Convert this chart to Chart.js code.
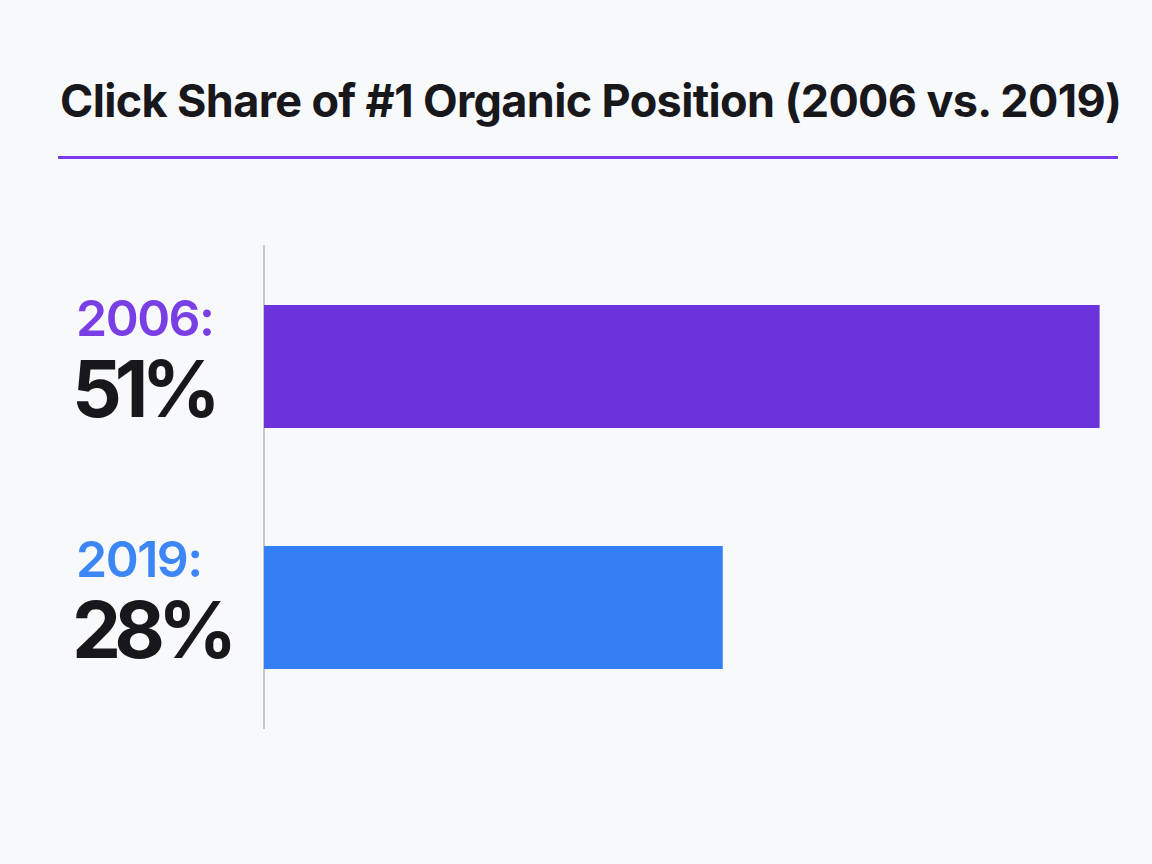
<!DOCTYPE html>
<html>
<head>
<meta charset="utf-8">
<script src="https://cdn.jsdelivr.net/npm/chart.js@4.4.1/dist/chart.umd.min.js"></script>
<style>
    html, body { margin: 0; padding: 0; background: #f8f9fb; }
    body { width: 1152px; height: 864px; position: relative; overflow: hidden; font-family: Inter, "Noto Sans", sans-serif; }
    .title {
        position: absolute; left: 60px; top: 74px; margin: 0;
        font-size: 45px; font-weight: 700; color: #17171c; letter-spacing: -0.65px;
        line-height: 54px; white-space: nowrap;
    }
    .rule { position: absolute; left: 58px; top: 156px; width: 1060px; height: 3px; background: #7c3aed; }
    .wrap { position: absolute; left: 0; top: 0; width: 1152px; height: 864px; }
</style>
</head>
<body>
<h1 class="title" id="title">Click Share of #1 Organic Position (2006 vs. 2019)</h1>
<div class="rule"></div>
<div class="wrap"><canvas id="share-chart"></canvas></div>
<script>
// --- DATA ---
const years = ['2006', '2019'];
const clickShare = [51, 28];
const barColors = ['#6c33dc', '#337ff4'];
const yearColors = ['#7a3fe4', '#3d86f5'];

// draws "2006:" / "51%" to the left of each bar
const sideLabels = {
    id: 'sideLabels',
    afterDraw(chart) {
        const { ctx } = chart;
        const yScale = chart.scales.y;
        ctx.save();
        ctx.textAlign = 'left';
        ctx.textBaseline = 'alphabetic';
        years.forEach((year, i) => {
            const cy = yScale.getPixelForValue(i);
            ctx.fillStyle = yearColors[i];
            ctx.font = '600 50px Inter';
            ctx.letterSpacing = '-1.5px';
            ctx.fillText(year + ':', 76, cy - 31);
            ctx.fillStyle = '#17171c';
            ctx.font = '700 78px Inter';
            ctx.letterSpacing = '-7px';
            ctx.fillText(clickShare[i] + '%', 72, cy + 50);
        });
        ctx.restore();
    }
};

new Chart(document.getElementById('share-chart'), {
    type: 'bar',
    data: {
        labels: years,
        datasets: [{
            data: clickShare,
            backgroundColor: barColors,
            borderWidth: 0,
            barPercentage: 0.51,
            categoryPercentage: 1
        }]
    },
    options: {
        indexAxis: 'y',
        responsive: true,
        maintainAspectRatio: false,
        animation: false,
        layout: { padding: { left: 264, right: 36, top: 246, bottom: 136 } },
        scales: {
            x: { display: false, min: 0, max: 52 },
            y: {
                afterFit: (scale) => { scale.width = 0; },
                ticks: { display: false },
                grid: { display: false },
                border: { display: true, color: '#c4c7cd', width: 2 }
            }
        },
        plugins: {
            legend: { display: false },
            tooltip: { enabled: false }
        }
    },
    plugins: [sideLabels]
});
</script>
</body>
</html>
